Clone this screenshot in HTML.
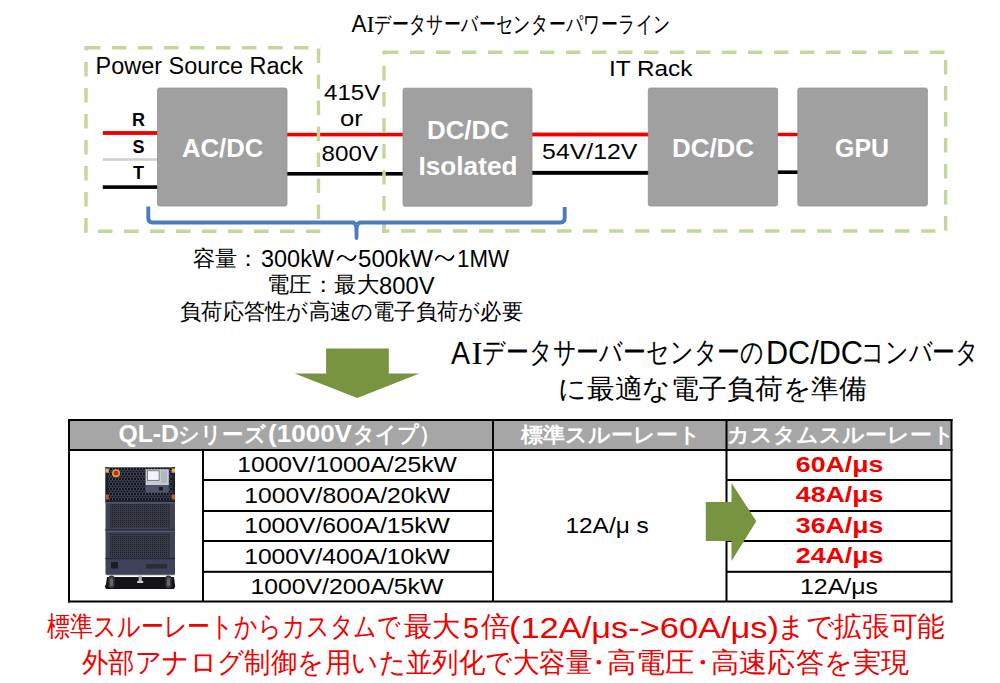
<!DOCTYPE html>
<html lang="ja">
<head>
<meta charset="utf-8">
<style>
html,body{margin:0;padding:0;background:#fff;}
body{width:1000px;height:683px;overflow:hidden;position:relative;font-family:"Liberation Sans",sans-serif;}
svg{position:absolute;left:0;top:0;}
text{font-family:"Liberation Sans",sans-serif;}
.w{fill:#fff;font-weight:bold;}
.b{fill:#000;}
.r{fill:#f00000;}
</style>
</head>
<body>
<svg width="1000" height="683" viewBox="0 0 1000 683">
<!-- title -->
<text id="tai" x="351.5" y="32.4" font-size="23" textLength="15.0" lengthAdjust="spacingAndGlyphs" class="b">A</text>
<text id="tai2" x="366.5" y="32.4" font-size="23" textLength="8.0" lengthAdjust="spacingAndGlyphs" class="b" style="font-family:'Liberation Serif',serif">I</text>
<text id="tjp" x="374.0" y="32" font-size="22.5" textLength="297.0" lengthAdjust="spacingAndGlyphs" class="b">データサーバーセンターパワーライン</text>

<text id="psr" x="95.5" y="74" font-size="23" textLength="207.5" lengthAdjust="spacingAndGlyphs" class="b">Power Source Rack</text>
<text id="it" x="609.0" y="76.3" font-size="22" textLength="83.4" lengthAdjust="spacingAndGlyphs" class="b">IT Rack</text>

<!-- lines -->
<rect x="102.8" y="131.1" width="56" height="3.8" fill="#f00000"/>
<rect x="102.8" y="158.2" width="56" height="2.6" fill="#d0d0d0"/>
<rect x="102.8" y="185.3" width="56" height="3.6" fill="#000"/>
<rect x="286" y="132.8" width="118" height="3.6" fill="#f00000"/>
<rect x="286" y="172" width="118" height="3.6" fill="#000"/>
<rect x="531" y="132.6" width="118" height="3.8" fill="#f00000"/>
<rect x="531" y="170.9" width="118" height="3.9" fill="#000"/>
<rect x="776" y="132.8" width="23" height="3.4" fill="#f00000"/>
<rect x="776" y="170.4" width="23" height="3.6" fill="#000"/>

<!-- dashed racks -->
<g stroke="#c4d79b" stroke-width="3.4" stroke-dasharray="14.5 11.5" fill="none">
<line x1="84.3" y1="47.8" x2="320.2" y2="47.8" stroke-dashoffset="24.3"/>
<line x1="318.5" y1="46.1" x2="318.5" y2="233.0" stroke-dashoffset="23.6"/>
<line x1="84.3" y1="231.3" x2="320.2" y2="231.3" stroke-dashoffset="12.3"/>
<line x1="86" y1="46.1" x2="86" y2="233.0" stroke-dashoffset="10.1"/>
<line x1="382.3" y1="52.2" x2="947.3" y2="52.2" stroke-dashoffset="24.3"/>
<line x1="945.6" y1="50.5" x2="945.6" y2="232.7" stroke-dashoffset="16.5"/>
<line x1="382.3" y1="231" x2="947.3" y2="231" stroke-dashoffset="7.3"/>
<line x1="384" y1="50.5" x2="384" y2="232.7" stroke-dashoffset="10.5"/>
</g>
<rect x="382.3" y="224.5" width="3.4" height="8.2" fill="#c4d79b"/>

<!-- boxes -->
<rect x="157.5" y="88" width="129.5" height="118" rx="2" fill="#a0a0a0" stroke="#939393" stroke-width="0.8"/>
<rect x="403" y="88.2" width="129" height="118" rx="2" fill="#a0a0a0" stroke="#939393" stroke-width="0.8"/>
<rect x="648.3" y="88" width="129.3" height="118" rx="2" fill="#a0a0a0" stroke="#939393" stroke-width="0.8"/>
<rect x="797.8" y="88" width="129.6" height="118" rx="2" fill="#a0a0a0" stroke="#939393" stroke-width="0.8"/>

<text id="acdc" x="182.0" y="156.7" font-size="25" textLength="81.4" lengthAdjust="spacingAndGlyphs" class="w">AC/DC</text>
<text id="dcdc1" x="427.0" y="139.3" font-size="25" textLength="81.8" lengthAdjust="spacingAndGlyphs" class="w">DC/DC</text>
<text id="iso" x="418.5" y="174.9" font-size="25" textLength="99.0" lengthAdjust="spacingAndGlyphs" class="w">Isolated</text>
<text id="dcdc2" x="672.0" y="157.4" font-size="25" textLength="82.0" lengthAdjust="spacingAndGlyphs" class="w">DC/DC</text>
<text id="gpu" x="835.0" y="157.4" font-size="25" textLength="54.0" lengthAdjust="spacingAndGlyphs" class="w">GPU</text>

<!-- RST -->
<text x="138.5" y="125.6" font-size="18" font-weight="bold" text-anchor="middle" class="b">R</text>
<text x="138.5" y="152.5" font-size="18" font-weight="bold" text-anchor="middle" class="b">S</text>
<text x="138.5" y="178.8" font-size="18" font-weight="bold" text-anchor="middle" class="b">T</text>

<text id="v415" x="324.0" y="100.2" font-size="21.5" textLength="56.2" lengthAdjust="spacingAndGlyphs" class="b">415V</text>
<text id="vor" x="340.0" y="126.2" font-size="21.5" textLength="22.8" lengthAdjust="spacingAndGlyphs" class="b">or</text>
<text id="v800" x="321.6" y="160.5" font-size="21.5" textLength="56.4" lengthAdjust="spacingAndGlyphs" class="b">800V</text>
<text id="v54" x="542.1" y="158.7" font-size="21.5" textLength="95.2" lengthAdjust="spacingAndGlyphs" class="b">54V/12V</text>

<!-- bracket -->
<path d="M148.3,206.5 V218.3 Q148.3,222.5 152.5,222.5 H560.5 Q564.7,222.5 564.7,218.3 V207" fill="none" stroke="#4a7ebb" stroke-width="3.9"/>
<path d="M351.5,224.2 Q354,224.4 354.4,227.5 L354.7,238.4 Q356.5,241.6 358.3,238.4 L358.6,227.5 Q359,224.4 361.5,224.2 Z" fill="#4a7ebb"/>
<polygon points="353.4,220.3 359.6,220.3 356.5,222.3" fill="#fff"/>

<text id="l1a" x="193.0" y="266" font-size="21.5" textLength="66.5" lengthAdjust="spacingAndGlyphs" class="b">容量：</text>
<text id="l1b" x="261.0" y="267" font-size="23.5" textLength="73.0" lengthAdjust="spacingAndGlyphs" class="b">300kW</text>
<text id="l1d" x="358.0" y="267" font-size="23.5" textLength="75.0" lengthAdjust="spacingAndGlyphs" class="b">500kW</text>
<text id="l1f" x="457.0" y="267" font-size="23.5" textLength="52.0" lengthAdjust="spacingAndGlyphs" class="b">1MW</text>
<path d="M337.6,259.8 C339.5,255.5 342.5,254.6 345.5,257.2 S352,262.6 355.6,256 M435.6,259.8 C437.5,255.5 440.5,254.6 443.5,257.2 S450,262.6 453.6,256" fill="none" stroke="#000" stroke-width="1.7" stroke-linecap="round"/>
<text id="l2a" x="267.0" y="291.6" font-size="21.5" textLength="112.0" lengthAdjust="spacingAndGlyphs" class="b">電圧：最大</text>
<text id="l2b" x="379.0" y="293.5" font-size="23.5" textLength="55.5" lengthAdjust="spacingAndGlyphs" class="b">800V</text>
<text id="l3" x="180.0" y="318.8" font-size="21.5" textLength="343.0" lengthAdjust="spacingAndGlyphs" class="b">負荷応答性が高速の電子負荷が必要</text>

<!-- down arrow -->
<polygon points="326.1,348.6 388.8,348.6 388.8,373.4 419.5,373.4 357.3,397.9 294.7,373.4 326.1,373.4" fill="#789440"/>

<text id="r1ai" x="451.0" y="364" font-size="30.5" textLength="19.0" lengthAdjust="spacingAndGlyphs" class="b">A</text>
<text id="r1ai2" x="471.5" y="364" font-size="30.5" textLength="11.0" lengthAdjust="spacingAndGlyphs" class="b" style="font-family:'Liberation Serif',serif">I</text>
<text id="r1jp" x="482.0" y="361.5" font-size="29" textLength="282.0" lengthAdjust="spacingAndGlyphs" class="b">データサーバーセンターの</text>
<text id="r1dc" x="766.0" y="364" font-size="32.5" textLength="97.0" lengthAdjust="spacingAndGlyphs" class="b">DC/DC</text>
<text id="r1jp2" x="861.0" y="361.5" font-size="29" textLength="118.0" lengthAdjust="spacingAndGlyphs" class="b">コンバータ</text>
<text id="r2" x="558.0" y="398" font-size="27" textLength="309.0" lengthAdjust="spacingAndGlyphs" class="b">に最適な電子負荷を準備</text>

<!-- table -->
<rect x="69" y="420" width="882.5" height="29.5" fill="#a6a6a6"/>
<g fill="#000">
<rect x="68" y="419" width="884.5" height="2"/>
<rect x="68" y="600.5" width="884.5" height="2"/>
<rect x="68" y="419" width="2" height="183.5"/>
<rect x="950.5" y="419" width="2" height="183.5"/>
<rect x="68" y="449" width="884.5" height="2"/>
<rect x="202" y="449" width="2" height="152"/>
<rect x="492" y="419" width="2" height="183"/>
<rect x="725.5" y="419" width="2" height="183"/>
<rect x="202" y="479" width="291" height="2"/>
<rect x="202" y="510" width="291" height="2"/>
<rect x="202" y="540" width="291" height="2"/>
<rect x="202" y="570.8" width="291" height="2"/>
<rect x="726" y="479" width="226" height="2"/>
<rect x="726" y="510" width="226" height="2"/>
<rect x="726" y="540" width="226" height="2"/>
<rect x="726" y="570.8" width="226" height="2"/>
</g>

<text id="h1a" x="118.5" y="441.5" font-size="23" textLength="60.5" lengthAdjust="spacingAndGlyphs" class="w">QL-D</text>
<text id="h1b" x="178.0" y="441.5" font-size="22" textLength="88.0" lengthAdjust="spacingAndGlyphs" class="w">シリーズ</text>
<text id="h1c" x="268.0" y="441.5" font-size="23" textLength="84.0" lengthAdjust="spacingAndGlyphs" class="w">(1000V</text>
<text id="h1d" x="353.0" y="441.5" font-size="22" textLength="87.5" lengthAdjust="spacingAndGlyphs" class="w">タイプ）</text>
<text id="h2" x="521.0" y="442" font-size="21" textLength="180.0" lengthAdjust="spacingAndGlyphs" class="w">標準スルーレート</text>
<text id="h3" x="727.0" y="442" font-size="21" textLength="228.0" lengthAdjust="spacingAndGlyphs" class="w">カスタムスルーレート</text>

<text id="c1" x="237.2" y="472" font-size="22" textLength="219.6" lengthAdjust="spacingAndGlyphs" class="b">1000V/1000A/25kW</text>
<text id="c2" x="244.2" y="502.7" font-size="22" textLength="206.0" lengthAdjust="spacingAndGlyphs" class="b">1000V/800A/20kW</text>
<text id="c3" x="244.2" y="533.1" font-size="22" textLength="205.6" lengthAdjust="spacingAndGlyphs" class="b">1000V/600A/15kW</text>
<text id="c4" x="244.2" y="563.8" font-size="22" textLength="205.6" lengthAdjust="spacingAndGlyphs" class="b">1000V/400A/10kW</text>
<text id="c5" x="250.4" y="594" font-size="22" textLength="193.0" lengthAdjust="spacingAndGlyphs" class="b">1000V/200A/5kW</text>

<text id="mid" x="565.4" y="532.5" font-size="22" textLength="83.4" lengthAdjust="spacingAndGlyphs" class="b">12A/μ s</text>

<text id="red1" x="795.8" y="471.5" font-size="22" font-weight="bold" textLength="87.5" lengthAdjust="spacingAndGlyphs" class="r">60A/μs</text>
<text id="red2" x="795.8" y="502" font-size="22" font-weight="bold" textLength="87.5" lengthAdjust="spacingAndGlyphs" class="r">48A/μs</text>
<text id="red3" x="795.8" y="532.5" font-size="22" font-weight="bold" textLength="87.5" lengthAdjust="spacingAndGlyphs" class="r">36A/μs</text>
<text id="red4" x="795.8" y="563" font-size="22" font-weight="bold" textLength="87.5" lengthAdjust="spacingAndGlyphs" class="r">24A/μs</text>
<text id="r12" x="800.0" y="593.7" font-size="22" textLength="78.0" lengthAdjust="spacingAndGlyphs" class="b">12A/μs</text>

<!-- product -->
<defs>
<pattern id="holes" x="0" y="0" width="3" height="5" patternUnits="userSpaceOnUse">
<rect width="3" height="5" fill="#464a60"/>
<rect x="0.5" y="0.5" width="2" height="2" fill="#121319"/>
<rect x="2" y="3" width="2" height="2" fill="#121319"/>
<rect x="-1" y="3" width="2" height="2" fill="#121319"/>
</pattern>
<pattern id="holes2" x="0" y="0" width="2" height="2" patternUnits="userSpaceOnUse">
<rect width="2" height="2" fill="#3a3c4a"/>
<rect width="1" height="1" fill="#1c1d25"/>
</pattern>
</defs>
<g>
<rect x="105.5" y="467.2" width="69.5" height="107.5" fill="#3e4158"/>
<rect x="108" y="468" width="64" height="32" fill="url(#holes)"/>
<rect x="105.5" y="467.2" width="2.6" height="33" fill="#1d1e27"/>
<rect x="172.4" y="467.2" width="2.6" height="33" fill="#1d1e27"/>
<rect x="145.6" y="469.2" width="23.2" height="16" fill="#c9cad2"/>
<rect x="147.6" y="470.8" width="11.5" height="9.5" fill="#f4f4f6" stroke="#55575f" stroke-width="0.7"/>
<rect x="161" y="471" width="6" height="12" fill="#b4b6c0"/>
<rect x="145.6" y="485.2" width="23.2" height="7.5" fill="#50536a"/>
<rect x="159" y="487" width="4" height="3.5" fill="#1a1b22"/>
<circle cx="116" cy="473.2" r="4" fill="#d9a92e"/>
<circle cx="116" cy="473.2" r="2.4" fill="#c3262b"/>
<rect x="105.5" y="468.5" width="3.3" height="4.2" fill="#e6b450"/>
<rect x="171.7" y="468.5" width="3.3" height="4.2" fill="#e6b450"/>
<rect x="105.5" y="494.5" width="3.3" height="5" fill="#b8602c"/>
<rect x="171.7" y="494.5" width="3.3" height="5" fill="#b8602c"/>
<rect x="105.5" y="500.2" width="69.5" height="2" fill="#1f2029"/>
<rect x="105.5" y="502.2" width="69.5" height="1.2" fill="#5a5e78"/>
<rect x="110" y="504" width="60" height="24" fill="url(#holes2)"/>
<rect x="105.5" y="529.3" width="69.5" height="1.4" fill="#262833"/>
<rect x="105.5" y="530.7" width="69.5" height="1.2" fill="#5a5e78"/>
<rect x="110" y="533" width="60" height="24" fill="url(#holes2)"/>
<rect x="105.5" y="557.8" width="69.5" height="1.4" fill="#262833"/>
<rect x="111" y="562" width="7" height="6.5" fill="#1c1d25"/>
<rect x="146" y="564" width="21" height="4.5" fill="#2a2c38"/>
<rect x="107" y="574.4" width="67" height="0.8" fill="#555"/>
<polygon points="107,577 174,577 175.2,586.5 174,589 106,589 104.8,586.5 106,584" fill="#141416"/>
<rect x="108.5" y="575.5" width="6" height="12.5" rx="2.5" fill="#3a3a3e"/>
<rect x="110" y="578" width="3" height="8" rx="1.5" fill="#66666c"/>
<rect x="165.5" y="575.5" width="6" height="12.5" rx="2.5" fill="#3a3a3e"/>
<rect x="167" y="578" width="3" height="8" rx="1.5" fill="#66666c"/>
<rect x="138.6" y="575.5" width="3.2" height="6" fill="#b0b0b4"/>
<rect x="137.2" y="581" width="6" height="2" fill="#d0d0d4"/>
</g>

<!-- right arrow -->
<polygon points="705.8,501.9 731.5,501.9 731.5,482.9 756.3,521.2 731.5,561 731.5,540.9 705.8,540.9" fill="#789440"/>

<!-- bottom text -->
<text id="b1a" x="47.0" y="636" font-size="28" textLength="354.0" lengthAdjust="spacingAndGlyphs" class="r">標準スルーレートからカスタムで</text>
<text id="b1b" x="403.5" y="636" font-size="28" textLength="56.5" lengthAdjust="spacingAndGlyphs" class="r">最大</text>
<text id="b1e" x="463.0" y="638" font-size="29.5" textLength="16.0" lengthAdjust="spacingAndGlyphs" class="r">5</text>
<text id="b1f" x="481.0" y="636" font-size="28" textLength="29.5" lengthAdjust="spacingAndGlyphs" class="r">倍</text>
<text id="b1c" x="509.0" y="638" font-size="29.5" textLength="270.0" lengthAdjust="spacingAndGlyphs" class="r">(12A/μs-&gt;60A/μs)</text>
<text id="b1d" x="777.0" y="636" font-size="28" textLength="168.0" lengthAdjust="spacingAndGlyphs" class="r">まで拡張可能</text>
<text id="b2a" x="82.0" y="671.5" font-size="28" textLength="510.0" lengthAdjust="spacingAndGlyphs" class="r">外部アナログ制御を用いた並列化で大容量</text>
<text id="b2b" x="584.0" y="671.5" font-size="28" textLength="29.0" lengthAdjust="spacingAndGlyphs" class="r">・</text>
<text id="b2c" x="607.0" y="671.5" font-size="28" textLength="87.5" lengthAdjust="spacingAndGlyphs" class="r">高電圧</text>
<text id="b2d" x="688.0" y="671.5" font-size="28" textLength="29.0" lengthAdjust="spacingAndGlyphs" class="r">・</text>
<text id="b2e" x="711.0" y="671.5" font-size="28" textLength="198.5" lengthAdjust="spacingAndGlyphs" class="r">高速応答を実現</text>
</svg>
</body>
</html>
